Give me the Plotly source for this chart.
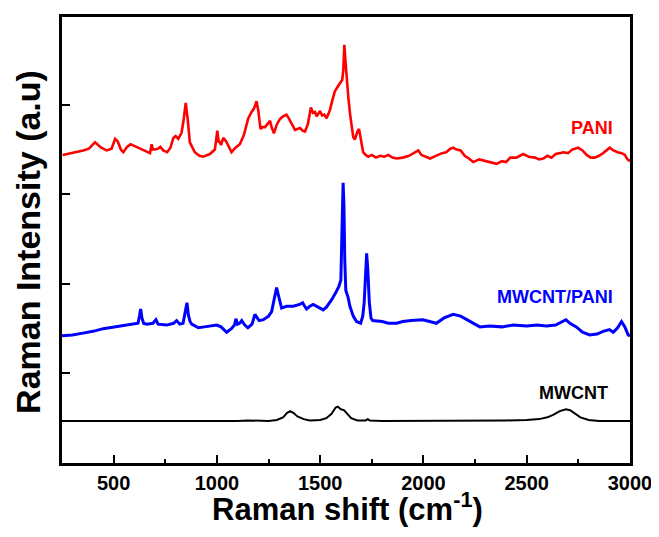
import plotly.graph_objects as go

# ---- data (Raman shift in cm^-1, intensity in arbitrary offset units) ----
mwcnt_x = [250, 400, 600, 800, 1000, 1100, 1150, 1200, 1250, 1290, 1320, 1340, 1355, 1370, 1390,
           1420, 1450, 1500, 1530, 1555, 1575, 1585, 1600, 1615, 1630, 1650, 1680, 1720, 1730, 1740,
           1800, 2000, 2200, 2400, 2500, 2560, 2600, 2630, 2660, 2690, 2710, 2730, 2760, 2800, 2850, 3000]
mwcnt_y = [0.47, 0.47, 0.465, 0.47, 0.47, 0.47, 0.475, 0.47, 0.47, 0.48, 0.51, 0.56, 0.58, 0.56, 0.52,
           0.49, 0.475, 0.48, 0.50, 0.55, 0.62, 0.63, 0.60, 0.59, 0.55, 0.50, 0.475, 0.475, 0.49, 0.475,
           0.47, 0.47, 0.47, 0.475, 0.48, 0.49, 0.51, 0.54, 0.58, 0.60, 0.59, 0.56, 0.51, 0.48, 0.47, 0.47]

comp_x = [250, 300, 352, 400, 450, 515, 560, 600, 618, 625, 631, 637, 645, 660, 690, 705, 715, 757,
          790, 805, 820, 836, 848, 855, 862, 870, 878, 910, 940, 970, 999, 1020, 1047, 1070, 1085, 1092,
          1100, 1110, 1120, 1135, 1150, 1170, 1184, 1195, 1205, 1225, 1250, 1265, 1280, 1289, 1298, 1313,
          1337, 1370, 1400, 1415, 1425, 1434, 1450, 1466, 1490, 1515, 1530, 1555, 1575, 1590, 1600, 1605,
          1608, 1611, 1615, 1619, 1624, 1635, 1644, 1660, 1676, 1696, 1706, 1713, 1720, 1725, 1730, 1738,
          1746, 1754, 1800, 1830, 1870, 1900, 1940, 1997, 2030, 2062, 2100, 2144, 2180, 2225, 2273, 2320,
          2380, 2434, 2500, 2550, 2596, 2640, 2676, 2690, 2709, 2740, 2770, 2805, 2840, 2870, 2900, 2919,
          2940, 2959, 2975, 2991, 3000]
comp_y = [1.42, 1.43, 1.45, 1.47, 1.50, 1.52, 1.54, 1.55, 1.56, 1.64, 1.72, 1.62, 1.56, 1.55, 1.56, 1.60,
          1.55, 1.54, 1.56, 1.59, 1.55, 1.56, 1.69, 1.79, 1.65, 1.58, 1.55, 1.51, 1.52, 1.53, 1.54, 1.52,
          1.46, 1.50, 1.54, 1.61, 1.55, 1.56, 1.59, 1.54, 1.51, 1.55, 1.66, 1.62, 1.59, 1.60, 1.64, 1.69,
          1.87, 1.96, 1.87, 1.73, 1.75, 1.75, 1.77, 1.79, 1.75, 1.72, 1.75, 1.77, 1.74, 1.71, 1.74, 1.82,
          1.90, 1.97, 2.04, 2.38, 2.83, 3.13, 2.88, 2.27, 1.93, 1.85, 1.75, 1.64, 1.58, 1.56, 1.64, 1.79,
          2.16, 2.34, 2.18, 1.79, 1.62, 1.59, 1.58, 1.56, 1.56, 1.58, 1.59, 1.60, 1.58, 1.56, 1.62, 1.66,
          1.64, 1.58, 1.52, 1.53, 1.52, 1.54, 1.53, 1.54, 1.53, 1.54, 1.59, 1.60, 1.56, 1.52, 1.46, 1.43,
          1.44, 1.47, 1.49, 1.46, 1.51, 1.58, 1.52, 1.43, 1.42]

pani_x = [253, 300, 353, 380, 410, 440, 466, 490, 507, 520, 535, 547, 565, 582, 610, 630, 660, 676, 684,
          690, 700, 715, 726, 740, 759, 775, 789, 800, 813, 829, 840, 849, 858, 869, 880, 893, 915, 934,
          966, 990, 996, 1002, 1008, 1012, 1020, 1031, 1045, 1060, 1071, 1090, 1111, 1130, 1152, 1168,
          1180, 1192, 1200, 1211, 1220, 1233, 1245, 1257, 1265, 1276, 1290, 1305, 1320, 1337, 1350, 1365,
          1378, 1390, 1402, 1415, 1426, 1440, 1455, 1465, 1475, 1483, 1499, 1510, 1520, 1531, 1547, 1560,
          1571, 1590, 1607, 1612, 1617, 1622, 1630, 1636, 1645, 1652, 1660, 1668, 1680, 1688, 1695, 1708,
          1720, 1733, 1750, 1770, 1790, 1810, 1830, 1850, 1870, 1900, 1930, 1955, 1975, 1990, 2010, 2032,
          2060, 2090, 2110, 2130, 2144, 2160, 2180, 2200, 2220, 2241, 2270, 2300, 2330, 2354, 2380, 2400,
          2420, 2450, 2483, 2510, 2540, 2560, 2580, 2600, 2620, 2640, 2660, 2676, 2700, 2720, 2749, 2770,
          2790, 2810, 2829, 2850, 2870, 2890, 2902, 2920, 2940, 2960, 2975, 2988, 3000]
pani_y = [3.44, 3.46, 3.49, 3.51, 3.58, 3.52, 3.49, 3.51, 3.62, 3.59, 3.50, 3.47, 3.53, 3.56, 3.53, 3.51,
          3.47, 3.46, 3.56, 3.50, 3.50, 3.51, 3.53, 3.49, 3.47, 3.52, 3.63, 3.65, 3.62, 3.69, 3.85, 4.02,
          3.85, 3.58, 3.53, 3.47, 3.43, 3.42, 3.45, 3.50, 3.60, 3.71, 3.59, 3.59, 3.55, 3.63, 3.59, 3.52,
          3.47, 3.52, 3.56, 3.66, 3.85, 3.92, 3.96, 4.04, 3.94, 3.73, 3.75, 3.75, 3.79, 3.82, 3.75, 3.68,
          3.78, 3.84, 3.87, 3.89, 3.84, 3.77, 3.72, 3.73, 3.74, 3.71, 3.70, 3.78, 3.97, 3.91, 3.92, 3.87,
          3.93, 3.88, 3.89, 3.85, 3.94, 4.06, 4.15, 4.22, 4.28, 4.39, 4.67, 4.50, 4.19, 4.09, 3.89, 3.75,
          3.64, 3.61, 3.70, 3.73, 3.64, 3.47, 3.44, 3.42, 3.44, 3.41, 3.43, 3.42, 3.44, 3.41, 3.40, 3.41,
          3.43, 3.46, 3.49, 3.44, 3.42, 3.40, 3.43, 3.46, 3.47, 3.51, 3.52, 3.50, 3.49, 3.43, 3.40, 3.36,
          3.39, 3.37, 3.35, 3.34, 3.37, 3.36, 3.41, 3.41, 3.45, 3.42, 3.41, 3.39, 3.40, 3.43, 3.41, 3.45,
          3.46, 3.47, 3.46, 3.50, 3.52, 3.49, 3.44, 3.41, 3.41, 3.43, 3.46, 3.50, 3.52, 3.49, 3.47, 3.46,
          3.44, 3.39, 3.37]

labels = ["PANI", "MWCNT/PANI", "MWCNT"]
label_x = [2925, 2925, 2902]
label_y = [3.74, 1.85, 0.78]
colors = ["#ff0000", "#0000ff", "#000000"]

x_tick_vals = [500, 1000, 1500, 2000, 2500, 3000]
x_minor_vals = [750, 1250, 1750, 2250, 2750]
y_tick_vals = [1, 2, 3, 4]

FONT = "Liberation Sans, Arial, sans-serif"

fig = go.Figure()
fig.add_trace(go.Scatter(x=mwcnt_x, y=mwcnt_y, mode="lines", name="MWCNT",
                         line=dict(color=colors[2], width=2)))
fig.add_trace(go.Scatter(x=comp_x, y=comp_y, mode="lines", name="MWCNT/PANI",
                         line=dict(color=colors[1], width=3)))
fig.add_trace(go.Scatter(x=pani_x, y=pani_y, mode="lines", name="PANI",
                         line=dict(color=colors[0], width=2.6)))

for t, xx, yy, c in zip(labels, label_x, label_y, colors):
    fig.add_annotation(x=xx, y=yy, xref="x", yref="y", text=f"<b>{t}</b>",
                       showarrow=False, xanchor="right", yanchor="middle",
                       font=dict(family=FONT, size=18, color=c))

# axis titles
fig.add_annotation(x=0.5035, y=-0.099, xref="paper", yref="paper",
                   text="<b>Raman shift (cm<sup>-1</sup>)</b>", showarrow=False,
                   xanchor="center", yanchor="middle",
                   font=dict(family=FONT, size=31, color="black"))
fig.add_annotation(x=-0.06, y=0.4955, xref="paper", yref="paper",
                   text="<b>Raman Intensity (a.u)</b>", showarrow=False, textangle=-90,
                   xanchor="center", yanchor="middle",
                   font=dict(family=FONT, size=34, color="black"))

# the page body has an 8px margin, so the figure is drawn 8px smaller and offset
fig.update_layout(
    width=651, height=529,
    margin=dict(l=54, r=29, t=9, b=74, autoexpand=False),
    paper_bgcolor="white", plot_bgcolor="white",
    showlegend=False,
    font=dict(family=FONT, color="black"),
)
fig.update_xaxes(
    range=[250, 3000], tickvals=x_tick_vals,
    ticks="inside", ticklen=8, tickwidth=2, tickcolor="black",
    minor=dict(tickvals=x_minor_vals, ticks="inside", ticklen=4, tickwidth=2, tickcolor="black"),
    showline=True, linecolor="black", linewidth=2.5, mirror=True,
    showgrid=False, zeroline=False, automargin=False,
    tickfont=dict(family=FONT, size=20, color="black", weight="bold"),
)
fig.update_yaxes(
    range=[0, 4.98], tickvals=y_tick_vals, showticklabels=False,
    ticks="inside", ticklen=8, tickwidth=2, tickcolor="black",
    showline=True, linecolor="black", linewidth=2.5, mirror=True,
    showgrid=False, zeroline=False, automargin=False,
)

fig.write_html("out.html")
